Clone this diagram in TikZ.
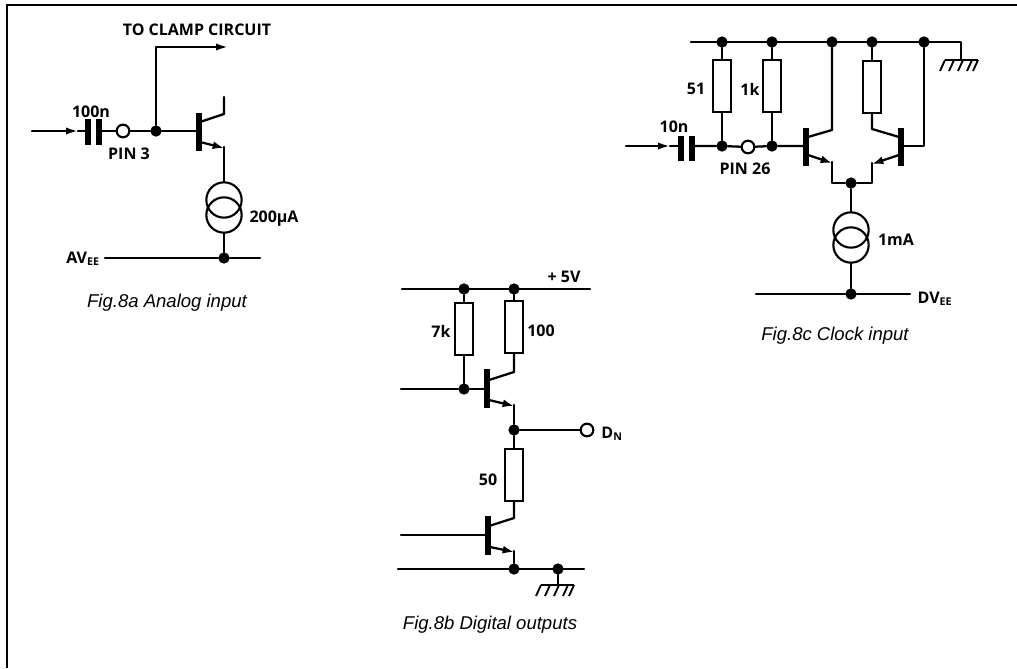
\documentclass[tikz,border=0pt]{standalone}
\usepackage{fontspec}
\setmainfont{Liberation Sans}
\newfontfamily\labelfont{Open Sans}
\usetikzlibrary{calc,arrows.meta}
\tikzset{>={Latex[length=9pt,width=5.5pt]}}
\tikzset{wire/.style={line width=1.7pt,line cap=round,line join=round}}
\tikzset{emit/.style={line width=1.7pt,-{Latex[length=8.5pt,width=6pt]}}}
\tikzset{bar/.style={line width=4.2pt}}
\tikzset{junction/.style={circle,fill=black,inner sep=0pt,minimum size=8.5pt}}
\tikzset{openpin/.style={circle,draw,line width=1.6pt,fill=white,inner sep=0pt,minimum size=9.5pt}}
\tikzset{resistor/.style={rectangle,draw,line width=1.5pt,fill=white,inner sep=0pt,minimum width=13.5pt,minimum height=38.5pt}}
\tikzset{source/.style={circle,draw,line width=1.6pt,inner sep=0pt,minimum size=26.5pt}}
\tikzset{lab/.style={font=\labelfont\bfseries\fontsize{12}{14}\selectfont,inner sep=0pt}}
\tikzset{caption/.style={font=\itshape\fontsize{13.9}{16}\selectfont,inner sep=0pt}}
\newcommand{\earth}[1]{
  \draw[line width=1.5pt] ($(#1)+(-12,0)$) -- ($(#1)+(21,0)$);
  \foreach \i in {-12,-3,6,15,21} {\draw[line width=1.4pt] ($(#1)+(\i,0)$) -- ($(#1)+(\i-5,11)$);}
}
\begin{document}
\begin{tikzpicture}[x=0.75pt,y=-0.75pt]
  \useasboundingbox (0,0) rectangle (1017,668);
  % Frame
  \coordinate (ftl) at (7,5);
  \coordinate (ftr) at (1017,5);
  \coordinate (fbl) at (7,668);
  \draw[line width=1.7pt] (fbl) -- (ftl) -- (ftr);

  % Fig.8a
  \coordinate (ain) at (32,131);
  \coordinate (amid) at (78,131);
  \coordinate (acl) at (88,131);
  \coordinate (acr) at (99,131);
  \coordinate (abase) at (199,131);
  \coordinate (aout) at (228,47);
  \coordinate (acol) at (224,114);
  \coordinate (atop) at (224,97);
  \coordinate (aem) at (224,148);
  \coordinate (arl) at (105,258);
  \coordinate (arr) at (260,258);
  \node[openpin] (apin) at (123,131) {};
  \node[junction] (ajn) at (156,131) {};
  \node[junction] (agnd) at (224,258) {};
  \node[source] (asa) at (224,200) {};
  \node[source] (asb) at (224,215) {};
  \draw[wire,->] (ain) -- (amid);
  \draw[wire] (amid) -- (acl);
  \draw[bar] ($(acl)+(0,-12)$) -- ($(acl)+(0,14)$);
  \draw[bar] ($(acr)+(0,-12)$) -- ($(acr)+(0,14)$);
  \draw[wire] (acr) -- (apin) -- (ajn) -- (abase);
  \draw[wire,->] (ajn) |- (aout);
  \draw[bar] (199,113) -- (199,151);
  \draw[wire] (200,122) -- (acol) -- (atop);
  \draw[emit] (200,142) -- (aem);
  \draw[wire] (224,147) -- (asa);
  \draw[wire] (asb) -- (agnd);
  \draw[wire] (arl) -- (agnd) -- (arr);
  \node[lab] (lclamp) at (197,30) {TO CLAMP CIRCUIT};
  \node[lab] (lcapa) at (91,112) {100n};
  \node[lab] (lpina) at (129,154) {PIN 3};
  \node[lab] (lsrca) at (274,219) {200µA};
  \node[lab] (lavee) at (83,259) {AV\textsubscript{EE}};
  \node[caption] (capa) at (167,303) {Fig.8a Analog input};

  % Fig.8b
  \coordinate (brl) at (402,289);
  \coordinate (brr) at (590,289);
  \coordinate (bgl) at (398,569);
  \coordinate (bgr) at (584,569);
  \coordinate (bina) at (401,389);
  \coordinate (binb) at (401,535);
  \coordinate (bgnd) at (553,585);
  \node[junction] (bja) at (464,289) {};
  \node[junction] (bjb) at (514,289) {};
  \node[junction] (bjc) at (464,389) {};
  \node[junction] (bjd) at (514,430) {};
  \node[junction] (bje) at (514,569) {};
  \node[junction] (bjf) at (558,569) {};
  \node[openpin] (bout) at (587,430) {};
  \node[resistor] (rsev) at (464,329) {};
  \node[resistor] (rhun) at (514,327) {};
  \node[resistor] (rfif) at (514,475) {};
  \draw[wire] (brl) -- (brr);
  \draw[wire] (bgl) -- (bgr);
  \draw[wire] (bja) -- (rsev) -- (bjc);
  \draw[wire] (bjb) -- (rhun);
  \draw[wire] (bina) -- (bjc) -- (487,389);
  \draw[bar] (487,369) -- (487,408);
  \draw[wire] (489,380) -- (514,372) -- (rhun);
  \draw[emit] (489,400) -- (514,406);
  \draw[wire] (514,405) -- (bjd);
  \draw[wire] (bjd) -- (bout);
  \draw[wire] (bjd) -- (rfif);
  \draw[wire] (rfif) -- (514,518) -- (489,526);
  \draw[wire] (binb) -- (488,535);
  \draw[bar] (488,516) -- (488,555);
  \draw[emit] (490,547) -- (514,552);
  \draw[wire] (514,551) -- (bje);
  \draw[wire] (bjf) -- (558,585);
  \earth{bgnd}
  \node[lab] (lfive) at (564,277) {+ 5V};
  \node[lab] (lsev) at (441,331) {7k};
  \node[lab] (lhun) at (541,331) {100};
  \node[lab] (lfif) at (488,480) {50};
  \node[lab] (ldn) at (612,434) {D\textsubscript{N}};
  \node[caption] (capb) at (490,625) {Fig.8b Digital outputs};

  % Fig.8c
  \coordinate (crl) at (691,42);
  \coordinate (crr) at (961,42);
  \coordinate (cin) at (626,146);
  \coordinate (cmid) at (670,146);
  \coordinate (ccl) at (681,146);
  \coordinate (ccr) at (692,146);
  \coordinate (cgnd) at (957,60);
  \coordinate (cvl) at (756,294);
  \coordinate (cvr) at (910,294);
  \node[junction] (cja) at (722,42) {};
  \node[junction] (cjb) at (772,42) {};
  \node[junction] (cjc) at (832,42) {};
  \node[junction] (cjd) at (872,42) {};
  \node[junction] (cje) at (924,42) {};
  \node[junction] (cjf) at (722,146) {};
  \node[junction] (cjg) at (772,146) {};
  \node[junction] (cjh) at (851,183) {};
  \node[junction] (cji) at (851,294) {};
  \node[openpin] (cpin) at (748,147) {};
  \node[resistor] (rfo) at (722,86) {};
  \node[resistor] (rkil) at (772,86) {};
  \node[resistor] (rlod) at (872,87) {};
  \node[source] (csa) at (851,230) {};
  \node[source] (csb) at (851,245) {};
  \draw[wire] (crl) -- (crr) -- (cgnd -| crr);
  \earth{cgnd}
  \draw[wire] (cja) -- (rfo) -- (cjf);
  \draw[wire] (cjb) -- (rkil) -- (cjg);
  \draw[wire,->] (cin) -- (cmid);
  \draw[wire] (cmid) -- (ccl);
  \draw[bar] ($(ccl)+(0,-10)$) -- ($(ccl)+(0,15)$);
  \draw[bar] ($(ccr)+(0,-10)$) -- ($(ccr)+(0,15)$);
  \draw[wire] (ccr) -- (cjf) -- (cpin) -- (cjg) -- (806,146);
  \draw[bar] (806,128) -- (806,166);
  \draw[bar] (901,128) -- (901,166);
  \draw[wire] (808,137) -- (832,130) -- (cjc);
  \draw[emit] (808,155) -- (832,163);
  \draw[wire] (832,162) -- (832,183) -- (cjh);
  \draw[wire] (cjh) -- (872,183) -- (872,163);
  \draw[emit] (899,155) -- (872,164);
  \draw[wire] (899,137) -- (872,129) -- (rlod);
  \draw[wire] (cjd) -- (rlod);
  \draw[wire] (903,146) -- (924,146) -- (cje);
  \draw[wire] (cjh) -- (csa);
  \draw[wire] (csb) -- (cji);
  \draw[wire] (cvl) -- (cji) -- (cvr);
  \node[lab] (lfo) at (696,89) {51};
  \node[lab] (lkil) at (750,89) {1k};
  \node[lab] (lcapc) at (674,127) {10n};
  \node[lab] (lpinc) at (745,169) {PIN 26};
  \node[lab] (lsrcc) at (896,240) {1mA};
  \node[lab] (ldvee) at (935,299) {DV\textsubscript{EE}};
  \node[caption] (capc) at (835,336) {Fig.8c Clock input};
\end{tikzpicture}
\end{document}
